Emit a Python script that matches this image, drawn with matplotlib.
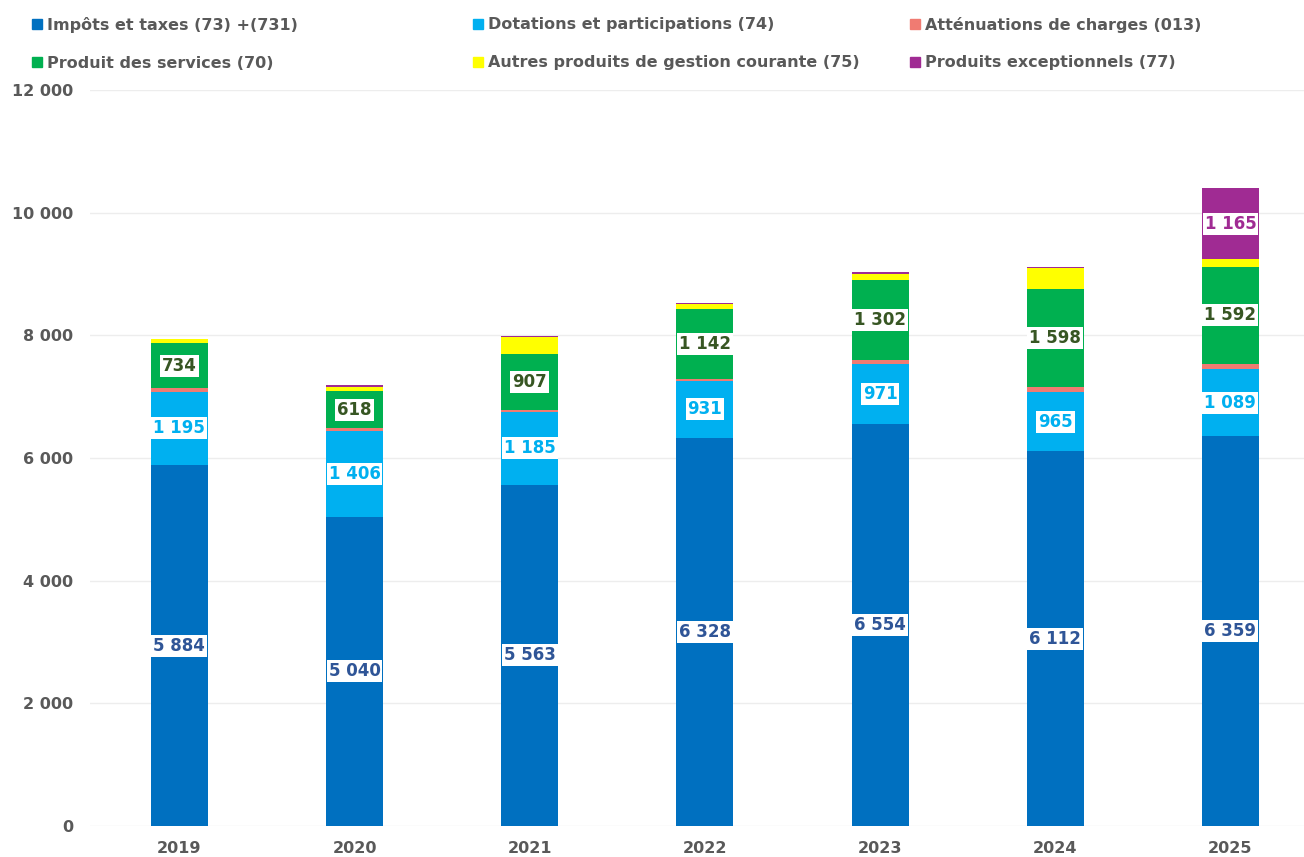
import matplotlib
matplotlib.use("Agg")
import matplotlib.pyplot as plt
import numpy as np

years = ["2019", "2020", "2021", "2022", "2023", "2024", "2025"]
series_names = [
    "Impôts et taxes (73) +(731)",
    "Dotations et participations (74)",
    "Atténuations de charges (013)",
    "Produit des services (70)",
    "Autres produits de gestion courante (75)",
    "Produits exceptionnels (77)",
]
impots = [5884, 5040, 5563, 6328, 6554, 6112, 6359]
dotations = [1195, 1406, 1185, 931, 971, 965, 1089]
attenuations = [55, 35, 35, 35, 70, 75, 80]
services = [734, 618, 907, 1142, 1302, 1598, 1592]
autres = [80, 65, 290, 75, 100, 355, 120]
exceptionnels = [0, 20, 10, 10, 40, 10, 1165]

colors = ["#0070C0", "#00B0F0", "#F07B72", "#00B050", "#FFFF00", "#A02B93"]
label_colors = ["#2F5597", "#00B0F0", None, "#375623", None, "#A02B93"]
label_min = 500

plt.rcParams['font.family'] = ['DejaVu Sans']
fig = plt.figure(figsize=(13.04, 8.57), dpi=100)
ax = fig.add_axes([90/1304, 31/857, 1 - 90/1304, (826-90)/857])

data = [impots, dotations, attenuations, services, autres, exceptionnels]
x = np.arange(len(years))
bottom = np.zeros(len(years))
width = 0.325
for vals, col, lcol in zip(data, colors, label_colors):
    vals = np.array(vals, dtype=float)
    ax.bar(x, vals, width, bottom=bottom, color=col, zorder=3)
    if lcol is not None:
        for xi, v, b in zip(x, vals, bottom):
            if v >= label_min:
                s = f"{int(v):,}".replace(",", " ")
                ax.text(xi, b + v/2, s, ha="center", va="center", fontsize=12,
                        fontweight="bold", color=lcol, zorder=5,
                        bbox=dict(boxstyle="square,pad=0.12", fc="white", ec="none"))
    bottom += vals

ax.set_xlim(-0.51, 6.42)
ax.set_ylim(0, 12000)
ax.set_yticks(np.arange(0, 12001, 2000))
ax.set_yticklabels([f"{v:,}".replace(",", " ") for v in range(0, 12001, 2000)])
ax.set_xticks(x)
ax.set_xticklabels(years)
for lab in ax.get_yticklabels() + ax.get_xticklabels():
    lab.set_fontweight("bold")
    lab.set_color("#595959")
    lab.set_fontsize(11.5)
ax.tick_params(axis="both", length=0)
ax.tick_params(axis="y", pad=12)
ax.tick_params(axis="x", pad=11)
ax.grid(axis="y", color="#EDEDED", linewidth=1, zorder=0)
for sp in ax.spines.values():
    sp.set_visible(False)

# legend
leg_pos = [(32, 24), (473, 24), (910, 24), (32, 62), (473, 62), (910, 62)]
for (px, py), name, col in zip(leg_pos, series_names, colors):
    fig.patches.append(plt.Rectangle((px/1304, 1 - (py+5)/857), 10/1304, 10/857,
                                     transform=fig.transFigure, color=col))
    fig.text((px+15)/1304, 1 - (py+1)/857, name, ha="left", va="center", fontsize=11.5,
             fontweight="bold", color="#595959")

fig.savefig("out.png", dpi=100)
